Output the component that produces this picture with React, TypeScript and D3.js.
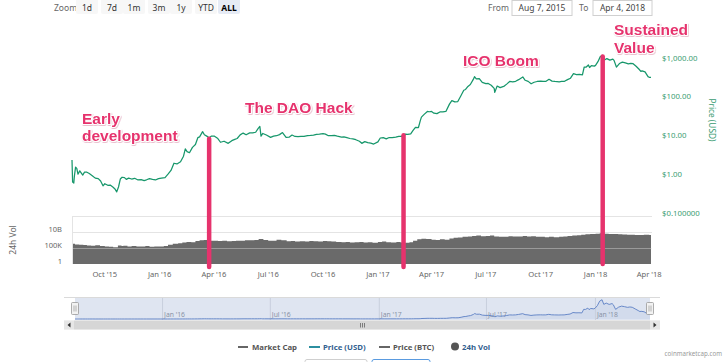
import React from 'react';
import * as d3 from 'd3';

const parse = d3.utcParse('%Y-%m-%d');

const startDate = '2015-08-07';
const endDate = '2018-04-04';

const priceUSD: [string, number][] = [
  ['2015-08-07', 2.77], ['2015-08-08', 0.75], ['2015-08-10', 0.71], ['2015-08-11', 1.07], ['2015-08-13', 1.83],
  ['2015-08-15', 1.69], ['2015-08-17', 1.2], ['2015-08-20', 1.46], ['2015-08-25', 1.14], ['2015-08-28', 1.35],
  ['2015-09-01', 1.35], ['2015-09-05', 1.25], ['2015-09-10', 1.1], ['2015-09-15', 0.95], ['2015-09-20', 0.92],
  ['2015-09-24', 0.8], ['2015-09-28', 0.6], ['2015-10-01', 0.68], ['2015-10-06', 0.62], ['2015-10-10', 0.63],
  ['2015-10-15', 0.55], ['2015-10-18', 0.5], ['2015-10-21', 0.42], ['2015-10-24', 0.56], ['2015-10-27', 0.9],
  ['2015-10-30', 1.0], ['2015-11-03', 0.98], ['2015-11-06', 0.88], ['2015-11-10', 0.95], ['2015-11-15', 0.9],
  ['2015-11-20', 0.94], ['2015-11-25', 0.86], ['2015-12-01', 0.87], ['2015-12-06', 0.82], ['2015-12-10', 0.86],
  ['2015-12-15', 0.92], ['2015-12-20', 0.88], ['2015-12-25', 0.85], ['2015-12-30', 0.92], ['2016-01-04', 0.95],
  ['2016-01-10', 0.98], ['2016-01-15', 1.2], ['2016-01-20', 1.5], ['2016-01-25', 2.3], ['2016-01-30', 2.2],
  ['2016-02-05', 2.5], ['2016-02-10', 3.5], ['2016-02-13', 5.4], ['2016-02-16', 4.6], ['2016-02-20', 4.3],
  ['2016-02-25', 5.9], ['2016-03-01', 7.0], ['2016-03-05', 10.5], ['2016-03-08', 11.0], ['2016-03-13', 15.0],
  ['2016-03-16', 12.5], ['2016-03-20', 11.5], ['2016-03-24', 10.5], ['2016-03-28', 11.6], ['2016-04-02', 11.5],
  ['2016-04-07', 10.2], ['2016-04-12', 8.0], ['2016-04-18', 8.5], ['2016-04-25', 7.5], ['2016-05-01', 8.8],
  ['2016-05-06', 9.5], ['2016-05-10', 10.0], ['2016-05-15', 12.4], ['2016-05-20', 13.8], ['2016-05-25', 12.5],
  ['2016-05-31', 14.0], ['2016-06-05', 13.9], ['2016-06-10', 14.5], ['2016-06-14', 18.0], ['2016-06-17', 20.5],
  ['2016-06-19', 11.5], ['2016-06-22', 13.5], ['2016-06-28', 12.3], ['2016-07-05', 10.7], ['2016-07-10', 11.5],
  ['2016-07-15', 11.8], ['2016-07-20', 12.6], ['2016-07-25', 14.2], ['2016-07-31', 10.7], ['2016-08-05', 10.8],
  ['2016-08-10', 12.3], ['2016-08-15', 11.3], ['2016-08-20', 11.2], ['2016-08-25', 11.4], ['2016-08-30', 11.3],
  ['2016-09-05', 11.8], ['2016-09-10', 12.0], ['2016-09-15', 12.3], ['2016-09-20', 12.8], ['2016-09-25', 12.9],
  ['2016-10-01', 13.3], ['2016-10-05', 13.0], ['2016-10-10', 11.8], ['2016-10-15', 11.9], ['2016-10-20', 12.0],
  ['2016-10-25', 11.5], ['2016-11-01', 10.9], ['2016-11-05', 11.0], ['2016-11-10', 10.5], ['2016-11-15', 10.0],
  ['2016-11-20', 9.8], ['2016-11-25', 9.3], ['2016-12-01', 8.5], ['2016-12-05', 7.5], ['2016-12-10', 8.3],
  ['2016-12-15', 7.8], ['2016-12-20', 7.6], ['2016-12-25', 7.2], ['2017-01-01', 8.2], ['2017-01-05', 10.3],
  ['2017-01-10', 10.5], ['2017-01-15', 9.8], ['2017-01-20', 10.6], ['2017-01-25', 10.5], ['2017-01-31', 10.8],
  ['2017-02-05', 11.3], ['2017-02-10', 11.4], ['2017-02-15', 12.9], ['2017-02-20', 12.7], ['2017-02-25', 13.2],
  ['2017-03-01', 16.1], ['2017-03-05', 19.5], ['2017-03-10', 19.2], ['2017-03-13', 28.5], ['2017-03-15', 35.5],
  ['2017-03-20', 42.5], ['2017-03-25', 50], ['2017-03-28', 49], ['2017-04-01', 50], ['2017-04-05', 45],
  ['2017-04-10', 43.8], ['2017-04-15', 48.5], ['2017-04-20', 48.8], ['2017-04-25', 50], ['2017-05-01', 77],
  ['2017-05-05', 95], ['2017-05-10', 88], ['2017-05-15', 90], ['2017-05-20', 125], ['2017-05-25', 176],
  ['2017-05-28', 184], ['2017-06-01', 221], ['2017-06-05', 247], ['2017-06-10', 335], ['2017-06-12', 395],
  ['2017-06-15', 345], ['2017-06-20', 350], ['2017-06-25', 280], ['2017-07-01', 260], ['2017-07-05', 264],
  ['2017-07-10', 237], ['2017-07-15', 197], ['2017-07-16', 155], ['2017-07-20', 226], ['2017-07-25', 205],
  ['2017-08-01', 225], ['2017-08-05', 253], ['2017-08-10', 296], ['2017-08-15', 290], ['2017-08-20', 299],
  ['2017-08-25', 330], ['2017-09-01', 387], ['2017-09-05', 318], ['2017-09-10', 298], ['2017-09-15', 258],
  ['2017-09-20', 283], ['2017-09-25', 296], ['2017-10-01', 302], ['2017-10-05', 296], ['2017-10-10', 299],
  ['2017-10-15', 337], ['2017-10-20', 303], ['2017-10-25', 296], ['2017-11-01', 291], ['2017-11-05', 296],
  ['2017-11-10', 299], ['2017-11-15', 330], ['2017-11-20', 360], ['2017-11-25', 470], ['2017-11-30', 447],
  ['2017-12-05', 453], ['2017-12-10', 441], ['2017-12-13', 700], ['2017-12-16', 693], ['2017-12-20', 790],
  ['2017-12-22', 680], ['2017-12-25', 763], ['2017-12-30', 737], ['2018-01-01', 772], ['2018-01-05', 962],
  ['2018-01-09', 1297], ['2018-01-13', 1396], ['2018-01-16', 1060], ['2018-01-20', 1155], ['2018-01-25', 1057],
  ['2018-01-30', 1119], ['2018-02-01', 1036], ['2018-02-05', 698], ['2018-02-10', 860], ['2018-02-15', 934],
  ['2018-02-20', 894], ['2018-02-25', 845], ['2018-03-01', 872], ['2018-03-05', 850], ['2018-03-10', 730],
  ['2018-03-15', 613], ['2018-03-18', 539], ['2018-03-20', 558], ['2018-03-25', 525], ['2018-03-30', 395],
  ['2018-04-01', 380], ['2018-04-04', 378],
];

const volume24h: [string, number][] = [
  ['2015-08-07', 2.0e6], ['2015-08-12', 1.2e6], ['2015-08-19', 1.0e6], ['2015-08-26', 8e5],
  ['2015-09-01', 6e5], ['2015-09-08', 5e5], ['2015-09-15', 7e5], ['2015-09-23', 4e5],
  ['2015-10-01', 3e5], ['2015-10-08', 2.5e5], ['2015-10-15', 1.6e5], ['2015-10-23', 6e5], ['2015-10-29', 4e5],
  ['2015-11-01', 5e5], ['2015-11-08', 3e5], ['2015-11-15', 4e5], ['2015-11-23', 3e5],
  ['2015-12-01', 3e5], ['2015-12-08', 4e5], ['2015-12-15', 2.5e5], ['2015-12-23', 3e5],
  ['2016-01-01', 3e5], ['2016-01-08', 4e5], ['2016-01-15', 1e6], ['2016-01-23', 2e6],
  ['2016-02-01', 3e6], ['2016-02-08', 5e6], ['2016-02-15', 8e6], ['2016-02-23', 6e6],
  ['2016-03-01', 1.5e7], ['2016-03-08', 2.5e7], ['2016-03-15', 3e7], ['2016-03-23', 2e7],
  ['2016-04-01', 2e7], ['2016-04-08', 1.5e7], ['2016-04-15', 1.8e7], ['2016-04-23', 1.2e7],
  ['2016-05-01', 1.5e7], ['2016-05-08', 2e7], ['2016-05-15', 1.8e7], ['2016-05-23', 2.5e7],
  ['2016-06-01', 2.5e7], ['2016-06-08', 3e7], ['2016-06-15', 6e7], ['2016-06-23', 3e7],
  ['2016-07-01', 2e7], ['2016-07-08', 1.8e7], ['2016-07-15', 4e7], ['2016-07-23', 2.5e7],
  ['2016-08-01', 1.2e7], ['2016-08-08', 1.5e7], ['2016-08-15', 1e7], ['2016-08-23', 1.2e7],
  ['2016-09-01', 1e7], ['2016-09-08', 1.5e7], ['2016-09-15', 1.2e7], ['2016-09-23', 1e7],
  ['2016-10-01', 1.5e7], ['2016-10-08', 1.2e7], ['2016-10-15', 1e7], ['2016-10-23', 8e6],
  ['2016-11-01', 6e6], ['2016-11-08', 8e6], ['2016-11-15', 5e6], ['2016-11-23', 6e6],
  ['2016-12-01', 7e6], ['2016-12-08', 5e6], ['2016-12-15', 6e6], ['2016-12-23', 4e6],
  ['2017-01-01', 8e6], ['2017-01-08', 1e7], ['2017-01-15', 6e6], ['2017-01-23', 5e6],
  ['2017-02-01', 7e6], ['2017-02-08', 5e6], ['2017-02-15', 4e6], ['2017-02-23', 6e6],
  ['2017-03-01', 2e7], ['2017-03-08', 5e7], ['2017-03-15', 8e7], ['2017-03-23', 6e7],
  ['2017-04-01', 4e7], ['2017-04-08', 3e7], ['2017-04-15', 5e7], ['2017-04-23', 4e7],
  ['2017-05-01', 1e8], ['2017-05-08', 1.5e8], ['2017-05-15', 2e8], ['2017-05-23', 3e8],
  ['2017-06-01', 4e8], ['2017-06-08', 6e8], ['2017-06-15', 8e8], ['2017-06-23', 5e8],
  ['2017-07-01', 6e8], ['2017-07-08', 8e8], ['2017-07-15', 4e8], ['2017-07-23', 3e8],
  ['2017-08-01', 3e8], ['2017-08-08', 5e8], ['2017-08-15', 4e8], ['2017-08-23', 4e8],
  ['2017-09-01', 6e8], ['2017-09-08', 4e8], ['2017-09-15', 5e8], ['2017-09-23', 3e8],
  ['2017-10-01', 3e8], ['2017-10-08', 2.5e8], ['2017-10-15', 3e8], ['2017-10-23', 2.5e8],
  ['2017-11-01', 3e8], ['2017-11-08', 4e8], ['2017-11-15', 6e8], ['2017-11-23', 8e8],
  ['2017-12-01', 1e9], ['2017-12-08', 1.5e9], ['2017-12-15', 2e9], ['2017-12-23', 2.5e9],
  ['2018-01-01', 3e9], ['2018-01-08', 4e9], ['2018-01-15', 3e9], ['2018-01-23', 2.5e9],
  ['2018-02-01', 2.5e9], ['2018-02-08', 2e9], ['2018-02-15', 1.8e9], ['2018-02-23', 1.5e9],
  ['2018-03-01', 1.5e9], ['2018-03-08', 1.2e9], ['2018-03-15', 1.1e9], ['2018-03-23', 1.3e9],
  ['2018-04-01', 1.2e9], ['2018-04-04', 1.2e9],
];

const xTickDates = ['2015-10-01', '2016-01-01', '2016-04-01', '2016-07-01', '2016-10-01', '2017-01-01',
  '2017-04-01', '2017-07-01', '2017-10-01', '2018-01-01', '2018-04-01'];
const xTickLabels = ["Oct '15", "Jan '16", "Apr '16", "Jul '16", "Oct '16", "Jan '17", "Apr '17",
  "Jul '17", "Oct '17", "Jan '18", "Apr '18"];
const navTickDates = ['2016-01-01', '2016-07-01', '2017-01-01', '2017-07-01', '2018-01-01'];
const navTickLabels = ["Jan '16", "Jul '16", "Jan '17", "Jul '17", "Jan '18"];
const priceTicks = [1000, 100, 10, 1, 0.1];
const priceTickLabels = ['$1,000.00', '$100.00', '$10.00', '$1.00', '$0.100000'];
const volTicks = [1e10, 1e5, 1];
const volTickLabels = ['10B', '100K', '1'];
const zoomButtons = ['1d', '7d', '1m', '3m', '1y', 'YTD', 'ALL'];
const fromLabel = 'Aug 7, 2015';
const toLabel = 'Apr 4, 2018';
const eventDates = ['2016-03-24', '2017-02-13', '2018-01-13'];
const eventLabels: string[][] = [['Early', 'development'], ['The DAO Hack'], ['ICO Boom'], ['Sustained', 'Value']];
const legendItems = ['Market Cap', 'Price (USD)', 'Price (BTC)', '24h Vol'];

const W = 727;
const H = 362;
const GREEN = '#17976b';
const PINK = '#e6336d';
const FONT = '"Noto Sans", "DejaVu Sans", sans-serif';
const BOLD = '"Liberation Sans", Arial, sans-serif';

export default function App() {
  const start = parse(startDate)!;
  const end = parse(endDate)!;
  const prices = priceUSD.map(([d, v]) => ({ date: parse(d)!, v }));
  const vols = volume24h.map(([d, v]) => ({ date: parse(d)!, v }));

  const x = d3.scaleUtc().domain([start, end]).range([72, 651]);
  const yP = d3.scaleLog().domain([0.1, 1000]).range([216, 61]);
  const yV = d3.scaleLog().domain([1, 1e15]).range([264, 216]);
  const xN = d3.scaleUtc().domain([start, end]).range([75, 650]);
  const yN = d3.scaleLinear().domain([0, 1450]).range([319, 299]);

  const priceLine = d3.line<{ date: Date; v: number }>().x(d => x(d.date)).y(d => yP(d.v))(prices) || '';
  const volArea = d3.area<{ date: Date; v: number }>()
    .x(d => x(d.date)).y0(264).y1(d => yV(d.v)).curve(d3.curveStepAfter)(vols) || '';
  const navLine = d3.line<{ date: Date; v: number }>().x(d => xN(d.date)).y(d => yN(d.v))(prices) || '';
  const navArea = d3.area<{ date: Date; v: number }>().x(d => xN(d.date)).y0(319).y1(d => yN(d.v))(prices) || '';

  const priceAt = (ds: string) => {
    const t = parse(ds)!.getTime();
    let best = prices[0];
    for (const p of prices) if (Math.abs(p.date.getTime() - t) < Math.abs(best.date.getTime() - t)) best = p;
    return best.v;
  };

  const labelPos = [
    { x: 82, y: 124, dy: 16.5 },
    { x: 245, y: 112.5, dy: 0 },
    { x: 463, y: 65.5, dy: 0 },
    { x: 614, y: 34.5, dy: 18 },
  ];
  const btnCenters = [87, 112, 134, 159, 181, 206, 229];
  const legendSym = [238, 309, 379, 455];

  return (
    <svg width={W} height={H} style={{ position: 'absolute', left: 0, top: 0, background: '#fff' }}
      xmlns="http://www.w3.org/2000/svg">
      <defs>
        <filter id="glow" x="-10%" y="-20%" width="120%" height="140%">
          <feDropShadow dx="0.6" dy="0.8" stdDeviation="0.7" floodColor="#b0204f" floodOpacity="0.35" />
        </filter>
      </defs>
      <rect x={0} y={0} width={W} height={H} fill="#fff" />

      {/* range selector */}
      <text x={54} y={10.5} fontFamily={FONT} fontSize={8.5} fill="#666">Zoom</text>
      {zoomButtons.map((b, i) => (
        <g key={b}>
          <rect x={btnCenters[i] - 11} y={-2} width={22} height={16} rx={2}
            fill={b === 'ALL' ? '#e6ebf5' : '#f7f7f7'} />
          <text x={btnCenters[i]} y={10.5} textAnchor="middle" fontFamily={FONT} fontSize={8.5}
            fontWeight={b === 'ALL' ? 700 : 400} fill={b === 'ALL' ? '#000' : '#333'}>{b}</text>
        </g>
      ))}
      <text x={488} y={10.5} fontFamily={FONT} fontSize={8.5} fill="#666">From</text>
      <rect x={512} y={0.5} width={60} height={15} fill="#fff" stroke="#d0d0d0" />
      <text x={542} y={10.5} textAnchor="middle" fontFamily={FONT} fontSize={8.5} fill="#444">{fromLabel}</text>
      <text x={579} y={10.5} fontFamily={FONT} fontSize={8.5} fill="#666">To</text>
      <rect x={593} y={0.5} width={59} height={15} fill="#fff" stroke="#d0d0d0" />
      <text x={622.5} y={10.5} textAnchor="middle" fontFamily={FONT} fontSize={8.5} fill="#444">{toLabel}</text>

      {/* volume panel */}
      <path d={volArea} fill="#6a6a6a" />
      <line x1={72} x2={652} y1={216.5} y2={216.5} stroke="#e4e4e4" />
      {volTicks.map((t, i) => (
        <g key={t}>
          {i < 2 && <line x1={72} x2={652} y1={yV(t) + 0.5} y2={yV(t) + 0.5} stroke="#e4e4e4" strokeOpacity={i === 0 ? 1 : 0.4} />}
          <text x={62} y={yV(t) - 0.5} textAnchor="end" fontFamily={FONT} fontSize={7.5} fill="#666">{volTickLabels[i]}</text>
        </g>
      ))}
      <line x1={72.5} x2={72.5} y1={216} y2={264} stroke="#e4e4e4" />
      <text transform="translate(16,240) rotate(-90)" textAnchor="middle" fontFamily={FONT} fontSize={8.5} fill="#666">24h Vol</text>

      {/* price axis */}
      {priceTicks.map((t, i) => (
        <text key={t} x={662} y={yP(t) - 0.5} fontFamily={FONT} fontSize={7.8} fill="#3a9c72">{priceTickLabels[i]}</text>
      ))}
      <text transform="translate(709,120) rotate(90)" textAnchor="middle" fontFamily={FONT} fontSize={8.3} fill="#3a9c72">Price (USD)</text>

      {/* x axis */}
      {xTickDates.map((d, i) => (
        <text key={d} x={x(parse(d)!)} y={277} textAnchor="middle" fontFamily={FONT} fontSize={7.6} fill="#666">{xTickLabels[i]}</text>
      ))}

      {/* price line */}
      <path d={priceLine} fill="none" stroke={GREEN} strokeWidth={1.25} strokeLinejoin="round" />

      {/* event bars */}
      {eventDates.map((d, i) => (
        <line key={d} x1={x(parse(d)!)} x2={x(parse(d)!)} y1={yP(priceAt(d)) + 1} y2={i === 2 ? 264 : 267}
          stroke={PINK} strokeWidth={4.5} strokeLinecap="round" />
      ))}

      {/* event labels */}
      {eventLabels.map((lines, i) => (
        <text key={i} fontFamily={BOLD} fontWeight={700} fontSize={15.5} fill={PINK}
          stroke="#fff" strokeWidth={2.2} paintOrder="stroke" strokeLinejoin="round" filter="url(#glow)">
          {lines.map((l, j) => (
            <tspan key={j} x={labelPos[i].x} y={labelPos[i].y + j * labelPos[i].dy}>{l}</tspan>
          ))}
        </text>
      ))}

      {/* navigator */}
      <rect x={75} y={298} width={575} height={22} fill="#dfe5f1" />
      <path d={navArea} fill="#c9d4ea" fillOpacity={0.6} />
      {navTickDates.map((d, i) => (
        <g key={d}>
          <line x1={xN(parse(d)!) + 0.5} x2={xN(parse(d)!) + 0.5} y1={298} y2={320} stroke="#c8cfdd" />
          <text x={xN(parse(d)!) + 2} y={317} fontFamily={FONT} fontSize={6.8} fill="#8a93a6">{navTickLabels[i]}</text>
        </g>
      ))}
      <path d={navLine} fill="none" stroke="#5b7fc4" strokeWidth={0.9} />
      <line x1={64} x2={660} y1={297.5} y2={297.5} stroke="#dadada" />
      {[75, 650].map(hx => (
        <g key={hx}>
          <rect x={hx - 3.5} y={302.5} width={7} height={12} rx={1} fill="#f2f2f2" stroke="#999" strokeWidth={0.8} />
          <line x1={hx - 1} x2={hx - 1} y1={305.5} y2={311.5} stroke="#999" strokeWidth={0.7} />
          <line x1={hx + 1} x2={hx + 1} y1={305.5} y2={311.5} stroke="#999" strokeWidth={0.7} />
        </g>
      ))}
      {/* scrollbar */}
      <rect x={64} y={320.5} width={596} height={9} fill="#f2f2f2" />
      <rect x={74} y={320.5} width={576} height={9} fill="#d6d6d6" />
      <rect x={64} y={320.5} width={10} height={9} fill="#e6e6e6" />
      <rect x={650} y={320.5} width={10} height={9} fill="#e6e6e6" />
      <path d="M70.5,322.5 L67.5,325 L70.5,327.5 Z" fill="#333" />
      <path d="M653.5,322.5 L656.5,325 L653.5,327.5 Z" fill="#333" />
      {[-2, 0, 2].map(o => (
        <line key={o} x1={362 + o + 0.5} x2={362 + o + 0.5} y1={323} y2={327.5} stroke="#555" strokeWidth={0.7} />
      ))}

      {/* legend */}
      <rect x={305} y={359.5} width={62} height={12} rx={2} fill="#fff" stroke="#cfcfcf" />
      <rect x={372} y={359.5} width={58} height={12} rx={2} fill="#fff" stroke="#5a9be0" />
      <g fontFamily={FONT} fontSize={7.8} fontWeight={700}>
        <line x1={legendSym[0]} x2={legendSym[0] + 10} y1={347} y2={347} stroke="#666" strokeWidth={2} />
        <text x={legendSym[0] + 14} y={350} fill="#555">{legendItems[0]}</text>
        <line x1={legendSym[1]} x2={legendSym[1] + 11} y1={347} y2={347} stroke="#2c8fa0" strokeWidth={2} />
        <text x={legendSym[1] + 14} y={350} fill="#33618f">{legendItems[1]}</text>
        <line x1={legendSym[2]} x2={legendSym[2] + 11} y1={347} y2={347} stroke="#666" strokeWidth={2} />
        <text x={legendSym[2] + 14} y={350} fill="#555">{legendItems[2]}</text>
        <circle cx={legendSym[3]} cy={346.5} r={4} fill="#555" />
        <text x={legendSym[3] + 7} y={350} fill="#33618f">{legendItems[3]}</text>
      </g>
      <text x={722} y={356} textAnchor="end" fontFamily={FONT} fontSize={6.2} fill="#999">coinmarketcap.com</text>
    </svg>
  );
}
